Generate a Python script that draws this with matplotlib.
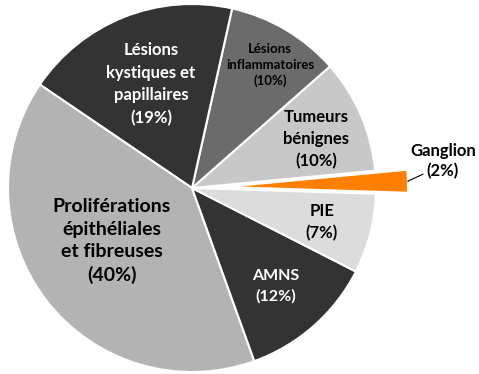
import numpy as np
import matplotlib.pyplot as plt

plt.rcParams['font.family'] = ['Lato', 'DejaVu Sans']

labels = ['Ganglion', 'Tumeurs\nbénignes', 'Lésions\ninflammatoires',
          'Lésions\nkystiques et\npapillaires',
          'Proliférations\népithéliales\net fibreuses', 'AMNS', 'PIE']
shares = [2, 10, 10, 19, 40, 12, 7]
colors = ['#FF7F00', '#C8C8C8', '#6B6B6B', '#333333', '#B3B3B3', '#333333', '#DCDCDC']

W, H = 479, 374
fig = plt.figure(figsize=(W / 100, H / 100), dpi=100)
ax = fig.add_axes([0, 0, 1, 1])

cx, cy, r = 192, H - 188, 184
# explode is in data units here (pixels), so pull Ganglion out by ~a sixth of the radius
explode = [32, 0, 0, 0, 0, 0, 0]
wedges, _ = ax.pie(shares, colors=colors, explode=explode, startangle=-1.8,
                   counterclock=True, center=(cx, cy), radius=r, frame=True,
                   wedgeprops=dict(edgecolor='white', linewidth=1.5))
ax.set_xlim(0, W)
ax.set_ylim(0, H)
ax.set_aspect('equal')
ax.axis('off')

# label centres (x, y from top), font size, colour, line spacing
spots = [(443, 161, 12, 'black', 1.3), (316, 139, 12, 'black', 1.45),
         (270, 65, 9.5, 'black', 1.4), (151, 84, 12, 'white', 1.5),
         (112, 241, 14, 'black', 1.38), (276, 286, 11.5, 'white', 1.5),
         (322, 222, 12, 'black', 1.45)]

for lab, val, (x, y, fs, col, ls) in zip(labels, shares, spots):
    ax.text(x, H - y, f'{lab}\n({val}%)', ha='center', va='center',
            fontsize=fs, fontweight='bold', color=col, linespacing=ls)

# leader from the tip of the Ganglion slice to its label
g = wedges[0]
mid = np.deg2rad((g.theta1 + g.theta2) / 2)
gx, gy = g.center
tx, ty = gx + g.r * np.cos(mid), gy + g.r * np.sin(mid)
ax.plot([tx, tx + 15], [ty, ty + 7], color='black', lw=0.8)

fig.savefig('out.png', dpi=100)
